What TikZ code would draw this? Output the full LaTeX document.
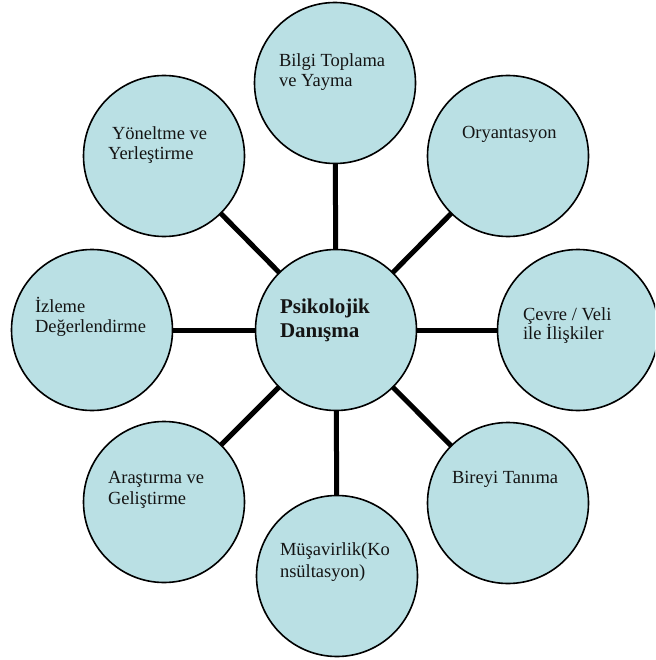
\documentclass[tikz,border=0pt]{standalone}
\usepackage{fontspec}
\setmainfont{Liberation Serif}
\definecolor{bubble}{RGB}{186,224,228}
\definecolor{ink}{RGB}{20,20,20}
\begin{document}
\begin{tikzpicture}[x=1pt,y=-1pt,
  bubblenode/.style={circle,draw=black,line width=1.6pt,fill=bubble,minimum size=161pt,inner sep=0pt,outer sep=0pt},
  linknode/.style={line width=5pt,draw=black},
  lbl/.style={anchor=base west,inner sep=0pt,outer sep=0pt,font=\fontsize{18.5}{20}\selectfont,text=ink},
  lblb/.style={anchor=base west,inner sep=0pt,outer sep=0pt,font=\fontsize{21}{24}\selectfont\bfseries,text=ink}]
\useasboundingbox (0,0) rectangle (655,660);
\clip (0,0) rectangle (655,660);
% circles
\node[bubblenode] (c) at (336,330) {};
\node[bubblenode] (n1) at (335,83) {};
\node[bubblenode] (n2) at (508,156) {};
\node[bubblenode] (n3) at (578,330) {};
\node[bubblenode] (n4) at (508,503) {};
\node[bubblenode] (n5) at (337,576) {};
\node[bubblenode] (n6) at (164,502) {};
\node[bubblenode] (n7) at (92,330) {};
\node[bubblenode] (n8) at (164,156) {};
% connectors
\foreach \n in {n1,n2,n3,n4,n5,n6,n7,n8}
  \draw[linknode] (c) -- (\n);
% labels
\node[lbl] (t1a) at (279,67) {Bilgi Toplama};
\node[lbl] (t1b) at (279,87) {ve Yayma};
\node[lbl] (t2a) at (462,139) {Oryantasyon};
\node[lbl] (t3a) at (523,320) {Çevre / Veli};
\node[lbl] (t3b) at (523,339) {ile İlişkiler};
\node[lbl] (t4a) at (452,483) {Bireyi Tanıma};
\node[lbl] (t5a) at (280,555) {Müşavirlik(Ko};
\node[lbl] (t5b) at (280,577) {nsültasyon)};
\node[lbl] (t6a) at (108,483) {Araştırma ve};
\node[lbl] (t6b) at (108,504) {Geliştirme};
\node[lbl] (t7a) at (35,312) {İzleme};
\node[lbl] (t7b) at (35,332) {Değerlendirme};
\node[lbl] (t8a) at (112,140) {Yöneltme ve};
\node[lbl] (t8b) at (108,160) {Yerleştirme};
\node[lblb] (tca) at (280,313) {Psikolojik};
\node[lblb] (tcb) at (280,337) {Danışma};
\end{tikzpicture}
\end{document}
